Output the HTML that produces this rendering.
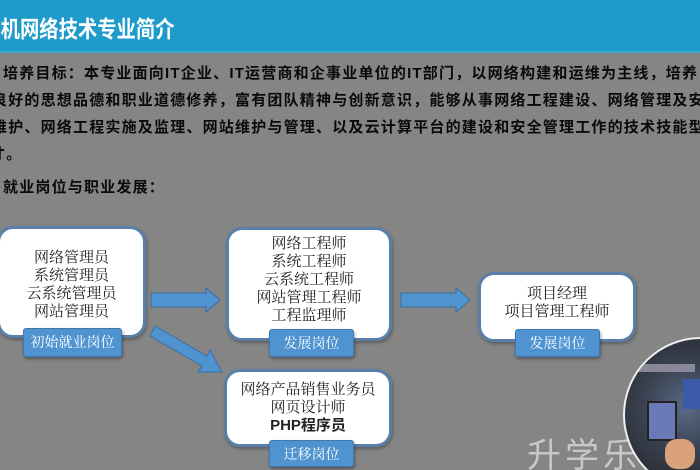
<!DOCTYPE html>
<html><head><meta charset="utf-8"><style>
*{margin:0;padding:0;box-sizing:border-box}
html,body{width:700px;height:470px;overflow:hidden}
body{background:#858585;position:relative;font-family:"Liberation Sans","Noto Sans CJK SC",sans-serif}
.hdr{position:absolute;left:0;top:0;width:700px;height:53px;background:#1f9bcb;border-bottom:2px solid #3aa9d0;overflow:hidden}
.title{position:absolute;left:-38px;top:10px;font-size:23px;font-weight:bold;color:#fff;white-space:nowrap;transform:scaleX(0.84);transform-origin:left top}
.t{position:absolute;font-size:15px;font-weight:bold;color:#0a0a0a;white-space:nowrap;line-height:17px;letter-spacing:1.2px}
.box{position:absolute;background:#fff;border:3px solid #5a7fa8;border-radius:16px;font-family:"Noto Serif CJK SC",serif;font-size:15px;color:#222;text-align:center;line-height:18px;box-shadow:1px 2px 3px rgba(0,0,0,.3)}
.lab{position:absolute;background:#4f93d1;border:1px solid #3f78ab;border-radius:3px;color:#fff;font-family:"Noto Serif CJK SC",serif;font-size:14px;text-align:center;line-height:26px;box-shadow:1px 2px 3px rgba(0,0,0,.35)}
.wrap{position:absolute;left:0;top:0;width:700px;height:470px;overflow:hidden}
</style></head><body><div class="wrap">
<div class="hdr"><div class="title">计算机网络技术专业简介</div></div>
<div class="t" style="left:3px;top:65px">培养目标：本专业面向IT企业、IT运营商和企事业单位的IT部门，以网络构建和运维为主线，培养</div>
<div class="t" style="left:-8px;top:92px">良好的思想品德和职业道德修养，富有团队精神与创新意识，能够从事网络工程建设、网络管理及安</div>
<div class="t" style="left:-8px;top:119px">维护、网络工程实施及监理、网站维护与管理、以及云计算平台的建设和安全管理工作的技术技能型</div>
<div class="t" style="left:-10px;top:146px">才。</div>
<div class="t" style="left:3px;top:179px">就业岗位与职业发展：</div>

<svg style="position:absolute;left:0;top:0" width="700" height="470">
<g fill="#4f93d1" stroke="#3a6f9e" stroke-width="1">
<polygon points="151,293 206,293 206,288 220,300 206,312 206,307 151,307"/>
<polygon points="401,293 456,293 456,288 470,300 456,312 456,307 401,307"/>
<polygon points="155,326 207,356 210,350 222,372 198,372 202,366 150,336"/>
</g>
</svg>

<div class="box" style="left:-3px;top:226px;width:149px;height:112px;padding-top:19px">网络管理员<br>系统管理员<br>云系统管理员<br>网站管理员</div>
<div class="lab" style="left:23px;top:328px;width:99px;height:29px">初始就业岗位</div>

<div class="box" style="left:226px;top:227px;width:166px;height:114px;padding-top:4px">网络工程师<br>系统工程师<br>云系统工程师<br>网站管理工程师<br>工程监理师</div>
<div class="lab" style="left:269px;top:329px;width:85px;height:28px">发展岗位</div>

<div class="box" style="left:478px;top:272px;width:158px;height:70px;padding-top:9px">项目经理<br>项目管理工程师</div>
<div class="lab" style="left:515px;top:329px;width:85px;height:28px">发展岗位</div>

<div class="box" style="left:224px;top:369px;width:168px;height:78px;padding-top:8px">网络产品销售业务员<br>网页设计师<br><b style="font-family:'Liberation Sans','Noto Sans CJK SC',sans-serif">PHP程序员</b></div>
<div class="lab" style="left:269px;top:440px;width:85px;height:27px">迁移岗位</div>

<div style="position:absolute;left:527px;top:428px;font-size:34px;color:#c8c8c8;font-family:'Noto Sans CJK SC',sans-serif;letter-spacing:4px;white-space:nowrap">升学乐</div>
<div style="position:absolute;left:623px;top:337px;width:156px;height:156px;border-radius:50%;border:2px solid #eee;background:radial-gradient(circle at 40% 45%,#5a6a88 0%,#3a4250 35%,#25282e 70%,#555 100%);overflow:hidden">
<div style="position:absolute;left:22px;top:62px;width:30px;height:40px;background:#6a79b8;border:2px solid #222"></div>
<div style="position:absolute;left:58px;top:40px;width:22px;height:30px;background:#3d5aa8"></div>
<div style="position:absolute;left:10px;top:25px;width:60px;height:8px;background:#889"></div>
<div style="position:absolute;left:40px;top:100px;width:30px;height:30px;background:#d9a27a;border-radius:40%"></div>
</div>
</div></body></html>
